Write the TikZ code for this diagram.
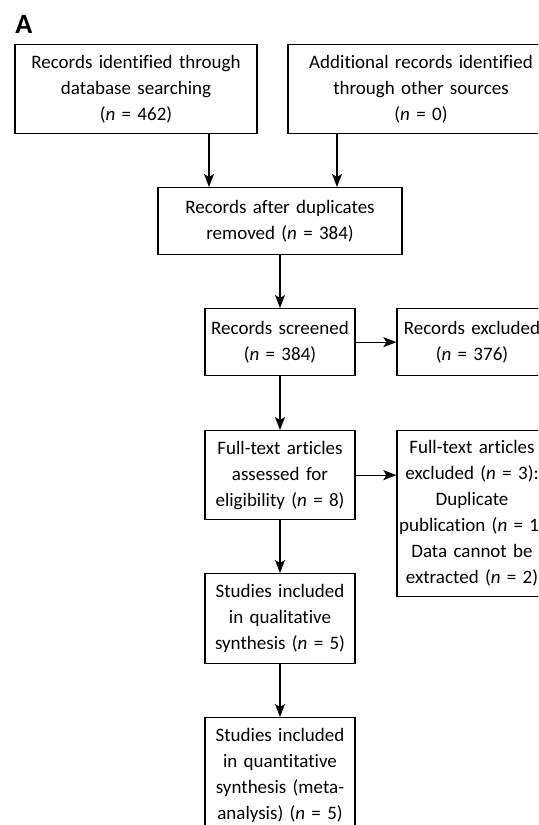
\documentclass[tikz,border=0pt]{standalone}
\usepackage{fontspec}
\setmainfont{Carlito}[Ligatures=NoCommon]
\usetikzlibrary{arrows.meta}
\tikzstyle{box}=[draw, line width=.65pt, anchor=north, align=center, inner xsep=1pt, inner ysep=0pt, font=\fontsize{9.5}{13}\selectfont]
\tikzstyle{wide}=[text width=119pt]
\tikzstyle{narrow}=[text width=73pt]
\tikzstyle{flow}=[-{Stealth[length=6.5pt,width=5pt,inset=1.5pt]}, line width=.65pt]
\newcommand{\nn}{\textit{n}}

\begin{document}
\begin{tikzpicture}[x=0.5pt,y=-0.5pt]
  \useasboundingbox (0,0) rectangle (538,825);
  \clip (0,0) rectangle (538,825);
  \draw (15,33) node[anchor=base west, inner sep=0pt, font=\fontsize{14}{14}\selectfont\bfseries] (lab) {A};

  \draw (136,44) node[box,wide,minimum height=44.5pt] (db) {Records identified through\\database searching\\(\nn{} = 462)};
  \draw (421,44) node[box,text width=131pt,minimum height=44.5pt] (other) {Additional records identified\\through other sources\\(\nn{} = 0)};
  \draw (280,187) node[box,text width=120pt,minimum height=33.5pt] (dedup) {Records after duplicates\\removed (\nn{} = 384)};

  \draw (280,308) node[box,narrow,minimum height=33.5pt] (screen) {Records screened\\(\nn{} = 384)};
  \draw (472,308) node[box,narrow,minimum height=33.5pt] (exclA) {Records excluded\\(\nn{} = 376)};

  \draw (280,430) node[box,narrow,minimum height=44.5pt] (full) {Full-text articles\\assessed for\\eligibility (\nn{} = 8)};
  \draw (472,430) node[box,narrow,minimum height=83pt] (exclB) {Full-text articles\\excluded (\nn{} = 3):\\Duplicate\\publication (\nn{} = 1)\\Data cannot be\\extracted (\nn{} = 2)};

  \draw (280,573) node[box,narrow,minimum height=45pt] (qual) {Studies included\\in qualitative\\synthesis (\nn{} = 5)};
  \draw (280,717) node[box,narrow,minimum height=57.5pt] (quant) {Studies included\\in quantitative\\synthesis (meta-\\analysis) (\nn{} = 5)};

  %% arrows
  \coordinate (left) at (209,0);
  \coordinate (right) at (337,0);
  \draw[flow] (left |- db.south) -- (left |- dedup.north);
  \draw[flow] (right |- other.south) -- (right |- dedup.north);
  \draw[flow] (dedup) -- (screen);
  \draw[flow] (screen) -- (exclA);
  \draw[flow] (screen) -- (full);
  \draw[flow] (full) -- (exclB.west |- full);
  \draw[flow] (full) -- (qual);
  \draw[flow] (qual) -- (quant);
\end{tikzpicture}
\end{document}
